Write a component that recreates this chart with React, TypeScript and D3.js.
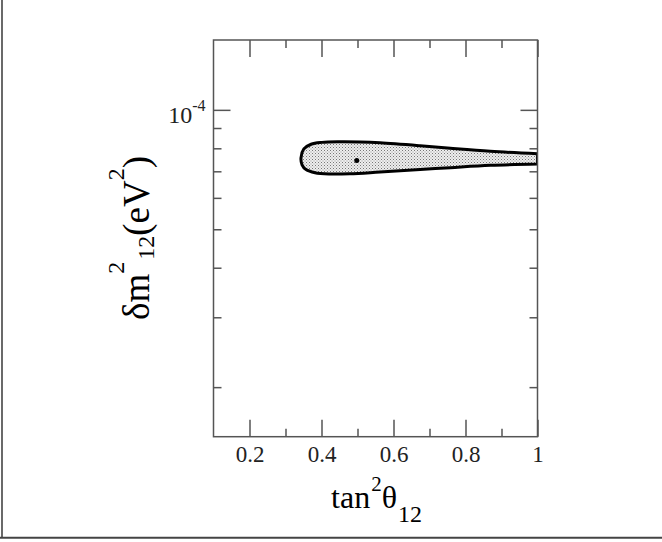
import React, { useEffect, useRef } from 'react';
import * as d3 from 'd3';

// axis ticks
const xMajorTicks = [0.2, 0.4, 0.6, 0.8, 1];
const xMajorLabels = ['0.2', '0.4', '0.6', '0.8', '1'];
const xMinorTicks = [0.3, 0.5, 0.7, 0.9];
const yMajorTicks = [1e-4];
const yMinorTicks = [2e-5, 3e-5, 4e-5, 5e-5, 6e-5, 7e-5, 8e-5, 9e-5];

// allowed region contour (tan^2, dm^2).
// starts at the upper edge on tan^2 = 1, runs round the tip, ends on the lower edge at tan^2 = 1
const contourTan2 = [1.0, 0.869, 0.758, 0.674, 0.5625, 0.507, 0.451, 0.401, 0.371, 0.351, 0.343,
  0.346, 0.357, 0.382, 0.424, 0.479, 0.5625, 0.674, 0.758, 0.869, 1.0];
const contourDm2 = [7.75e-5, 7.86e-5, 8.0e-5, 8.12e-5, 8.26e-5, 8.3e-5, 8.31e-5, 8.28e-5, 8.19e-5, 7.97e-5, 7.57e-5,
  7.27e-5, 7.07e-5, 6.94e-5, 6.89e-5, 6.9e-5, 6.97e-5, 7.07e-5, 7.15e-5, 7.25e-5, 7.3e-5];

// best fit point
const bestFitTan2 = [0.498];
const bestFitDm2 = [7.45e-5];

const App = () => {
  const ref = useRef<SVGSVGElement>(null);

  useEffect(() => {
    drawChart();
  }, []);

  const drawChart = () => {
    const svg = d3.select(ref.current);
    svg.selectAll('*').remove();

    const W = 662;
    const left = 213.5, right = 537.5, top = 40, bottom = 436.7;
    const font = "'Liberation Serif', 'Times New Roman', serif";
    const axisColor = '#555';

    // outer frame (left + bottom)
    svg.append('line').attr('x1', 2).attr('x2', 2).attr('y1', 0).attr('y2', 538)
      .attr('stroke', '#444').attr('stroke-width', 1.6);
    svg.append('line').attr('x1', 0).attr('x2', W).attr('y1', 537.8).attr('y2', 537.8)
      .attr('stroke', '#444').attr('stroke-width', 2);

    const x = d3.scaleLinear().domain([0.1, 1]).range([left, right]);
    const y = d3.scaleLog().domain([1.5e-5, 1.5e-4]).range([bottom, top]);

    const defs = svg.append('defs');
    const pat = defs.append('pattern')
      .attr('id', 'stipple')
      .attr('width', 3)
      .attr('height', 3)
      .attr('patternUnits', 'userSpaceOnUse');
    pat.append('rect').attr('width', 3).attr('height', 3).attr('fill', '#eee');
    pat.append('rect').attr('x', 0).attr('y', 0).attr('width', 1).attr('height', 1).attr('fill', '#777');
    pat.append('rect').attr('x', 1.5).attr('y', 1.5).attr('width', 1).attr('height', 1).attr('fill', '#999');

    defs.append('clipPath').attr('id', 'plotClip')
      .append('rect')
      .attr('x', left - 1).attr('y', top)
      .attr('width', right - left + 1.5).attr('height', bottom - top);

    // contour: smooth round the tip, straight cut at tan^2 = 1
    const pts: [number, number][] = contourTan2.map((t, i) => [x(t), y(contourDm2[i])]);
    const line = d3.line().curve(d3.curveCatmullRom.alpha(0.5));
    svg.append('path')
      .attr('clip-path', 'url(#plotClip)')
      .attr('d', line(pts) + 'Z')
      .attr('fill', 'url(#stipple)')
      .attr('stroke', '#000')
      .attr('stroke-width', 3)
      .attr('stroke-linejoin', 'round');

    // best fit
    svg.selectAll('.bf')
      .data(bestFitTan2)
      .enter()
      .append('circle')
      .attr('class', 'bf')
      .attr('cx', d => x(d))
      .attr('cy', (d, i) => y(bestFitDm2[i]))
      .attr('r', 2.5)
      .attr('fill', '#000');

    // axes (ticks inward on all sides)
    const styleAxis = (g) => {
      g.select('.domain').remove();
      g.selectAll('line').attr('stroke', axisColor).attr('stroke-width', 1.5);
    };

    svg.append('g').attr('transform', `translate(0,${bottom})`)
      .call(d3.axisBottom(x).tickValues(xMajorTicks).tickSize(-17).tickPadding(9)
        .tickFormat((d, i) => xMajorLabels[i]))
      .call(styleAxis)
      .call(g => g.selectAll('text')
        .attr('fill', '#222')
        .style('font-family', font)
        .style('font-size', '23px'));
    svg.append('g').attr('transform', `translate(0,${bottom})`)
      .call(d3.axisBottom(x).tickValues(xMinorTicks).tickSize(-8).tickFormat(() => ''))
      .call(styleAxis);
    svg.append('g').attr('transform', `translate(0,${top})`)
      .call(d3.axisTop(x).tickValues(xMajorTicks).tickSize(-17).tickFormat(() => ''))
      .call(styleAxis);
    svg.append('g').attr('transform', `translate(0,${top})`)
      .call(d3.axisTop(x).tickValues(xMinorTicks).tickSize(-8).tickFormat(() => ''))
      .call(styleAxis);

    svg.append('g').attr('transform', `translate(${left},0)`)
      .call(d3.axisLeft(y).tickValues(yMajorTicks).tickSize(-17).tickFormat(() => ''))
      .call(styleAxis);
    svg.append('g').attr('transform', `translate(${left},0)`)
      .call(d3.axisLeft(y).tickValues(yMinorTicks).tickSize(-8).tickFormat(() => ''))
      .call(styleAxis);
    svg.append('g').attr('transform', `translate(${right},0)`)
      .call(d3.axisRight(y).tickValues(yMajorTicks).tickSize(-17).tickFormat(() => ''))
      .call(styleAxis);
    svg.append('g').attr('transform', `translate(${right},0)`)
      .call(d3.axisRight(y).tickValues(yMinorTicks).tickSize(-8).tickFormat(() => ''))
      .call(styleAxis);

    // plot frame
    svg.append('rect')
      .attr('x', left).attr('y', top)
      .attr('width', right - left).attr('height', bottom - top)
      .attr('fill', 'none')
      .attr('stroke', axisColor)
      .attr('stroke-width', 1.5);

    // y tick label 10^-4
    yMajorTicks.forEach(v => {
      const t = svg.append('text')
        .attr('x', left - 8)
        .attr('y', y(v) + 13)
        .attr('text-anchor', 'end')
        .attr('fill', '#222')
        .style('font-family', font)
        .style('font-size', '24px');
      t.append('tspan').text('10');
      t.append('tspan').attr('dy', -12).style('font-size', '16px').text('-4');
    });

    // x axis title
    const xt = svg.append('text')
      .attr('x', (left + right) / 2 + 1)
      .attr('y', 508)
      .attr('text-anchor', 'middle')
      .attr('fill', '#000')
      .style('font-family', font)
      .style('font-size', '32px');
    xt.append('tspan').text('tan');
    xt.append('tspan').attr('dx', 1).attr('dy', -17).style('font-size', '21px').text('2');
    xt.append('tspan').attr('dy', 17).text('θ');
    xt.append('tspan').attr('dx', 1).attr('dy', 14).style('font-size', '24px').text('12');

    // y axis title
    const yt = svg.append('text')
      .attr('transform', `translate(149,238) rotate(-90)`)
      .attr('text-anchor', 'middle')
      .attr('fill', '#000')
      .style('font-family', font)
      .style('font-size', '37px');
    yt.append('tspan').text('δm');
    yt.append('tspan').attr('dy', -25).style('font-size', '24px').text('2');
    yt.append('tspan').attr('dx', 2).attr('dy', 30).style('font-size', '24px').text('12');
    yt.append('tspan').attr('dy', -5).text('(eV');
    yt.append('tspan').attr('dy', -25).style('font-size', '24px').text('2');
    yt.append('tspan').attr('dy', 25).text(')');
  };

  return (
    <svg
      ref={ref}
      width={662}
      height={542}
      style={{ position: 'absolute', left: 0, top: 0, background: '#fff' }}
    />
  );
};

export default App;
